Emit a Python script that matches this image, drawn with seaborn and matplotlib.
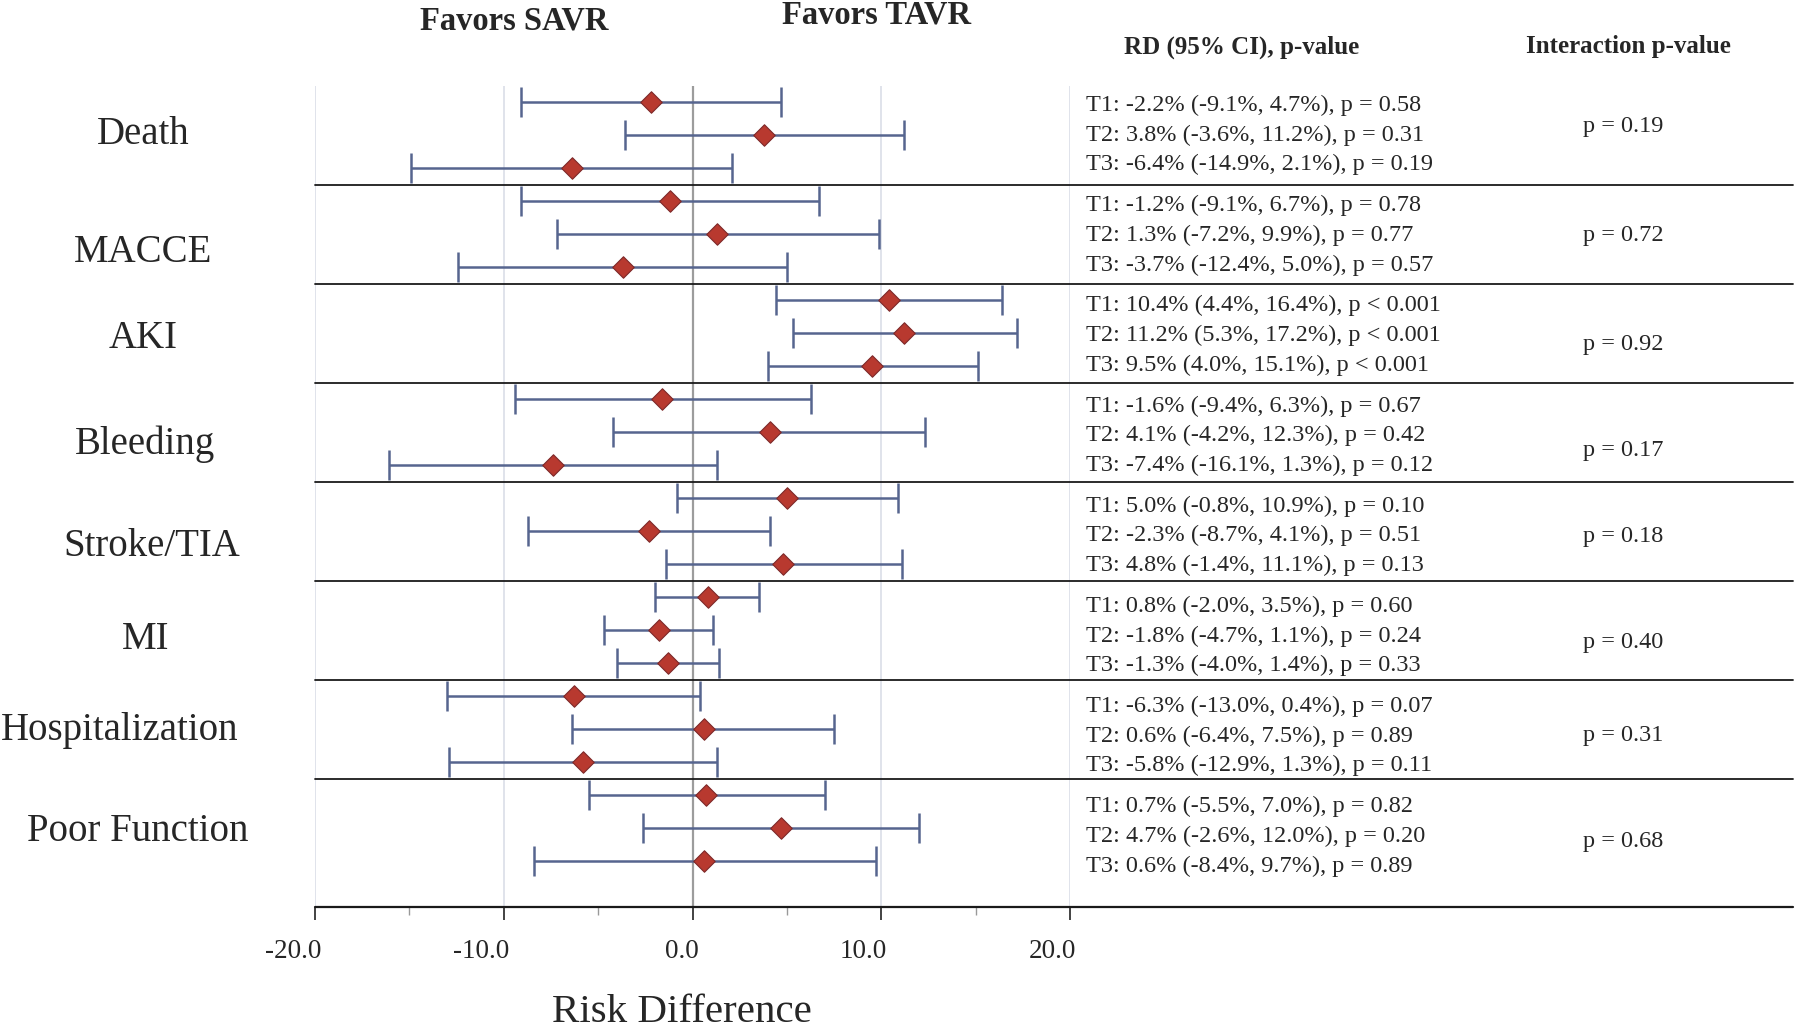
import numpy as np
import pandas as pd
import seaborn as sns
import matplotlib.pyplot as plt
from matplotlib.transforms import ScaledTranslation

# outcomes and terciles
outcomes = ['Death', 'MACCE', 'AKI', 'Bleeding', 'Stroke/TIA', 'MI',
            'Hospitalization', 'Poor Function']
terciles = ['T1', 'T2', 'T3']

# risk difference (%) and 95% CI, per outcome: T1, T2, T3
rd = [[-2.2, 3.8, -6.4], [-1.2, 1.3, -3.7], [10.4, 11.2, 9.5], [-1.6, 4.1, -7.4],
      [5.0, -2.3, 4.8], [0.8, -1.8, -1.3], [-6.3, 0.6, -5.8], [0.7, 4.7, 0.6]]
ci_low = [[-9.1, -3.6, -14.9], [-9.1, -7.2, -12.4], [4.4, 5.3, 4.0], [-9.4, -4.2, -16.1],
          [-0.8, -8.7, -1.4], [-2.0, -4.7, -4.0], [-13.0, -6.4, -12.9], [-5.5, -2.6, -8.4]]
ci_high = [[4.7, 11.2, 2.1], [6.7, 9.9, 5.0], [16.4, 17.2, 15.1], [6.3, 12.3, 1.3],
           [10.9, 4.1, 11.1], [3.5, 1.1, 1.4], [0.4, 7.5, 1.3], [7.0, 12.0, 9.7]]
p_row = [['0.58', '0.31', '0.19'], ['0.78', '0.77', '0.57'], ['<0.001', '<0.001', '<0.001'],
         ['0.67', '0.42', '0.12'], ['0.10', '0.51', '0.13'], ['0.60', '0.24', '0.33'],
         ['0.07', '0.89', '0.11'], ['0.82', '0.20', '0.89']]
p_interaction = ['0.19', '0.72', '0.92', '0.17', '0.18', '0.40', '0.31', '0.68']

xticks = [-20, -10, 0, 10, 20]
xtick_labels = ['-20.0', '-10.0', '0.0', '10.0', '20.0']

# label placement tweaks (layout only)
label_x = [143, 143, 143, 145, 152, 146, 120, 138]      # px centre
label_dy = [-0.03, 0.56, 0.17, 0.37, 0.46, 0.28, 0.03, 0.09]
pint_dy = [-0.27, 0.03, 0.34, 0.57, 0.15, 0.38, 0.2, 0.4]

recs = []
for g, name in enumerate(outcomes):
    for r, t in enumerate(terciles):
        recs.append(dict(outcome=name, tercile=t, rd=rd[g][r], lo=ci_low[g][r],
                         hi=ci_high[g][r], p=p_row[g][r], g=g, r=r, row=3 * g + r))
df = pd.DataFrame(recs)

sns.set_style('white')
plt.rcParams['font.family'] = ['Liberation Serif', 'DejaVu Serif']

fig = plt.figure(figsize=(18, 10.34), dpi=100)
W, H = 1800, 1034
ax = fig.add_axes([315 / W, 1 - 907 / H, (1070 - 315) / W, (907 - 86) / H])
px_per_unit = (1070 - 315) / 40

# vertical reference lines
for x in [-20, -10, 10, 20]:
    ax.axvline(x, color='#dde0e9', lw=1.3, zorder=0)
ax.axvline(0, color='#9c9c9c', lw=1.6, zorder=0)

# confidence intervals
ax.errorbar(df['rd'], df['row'], xerr=[df['rd'] - df['lo'], df['hi'] - df['rd']],
            fmt='none', ecolor='#56658f', elinewidth=1.8, capsize=11, capthick=1.8,
            zorder=2)
sns.scatterplot(data=df, x='rd', y='row', marker='D', s=120, color='#b8392f',
                edgecolor='#7d2a2a', linewidth=0.8, ax=ax, zorder=3, legend=False)

ax.set_xlim(-20, 20)
ax.set_ylim(24.39, -0.49)
ax.set_xlabel('')
ax.set_ylabel('')
ax.set_yticks([])
for s in ['top', 'right', 'left', 'bottom']:
    ax.spines[s].set_visible(False)

ax.set_xticks(xticks)
ax.set_xticklabels(xtick_labels, fontsize=19.5)
ax.set_xticks([-15, -5, 5, 15], minor=True)
ax.tick_params(axis='x', which='major', direction='out', length=9, width=1.2,
               color='#222222', pad=14, bottom=True)
ax.tick_params(axis='x', which='minor', direction='out', length=6, width=1,
               color='#999999', bottom=True)
shift = ScaledTranslation(6 / 100, 0, fig.dpi_scale_trans)
for lab in ax.get_xticklabels():
    lab.set_horizontalalignment('right')
    lab.set_transform(lab.get_transform() + shift)

# separators between outcomes, running across the table
xmax = (1793 - 315) / (1070 - 315)
for g in range(len(outcomes) - 1):
    ax.axhline(3 * g + 2.5, xmin=0, xmax=xmax, color='#1a1a1a', lw=1.3, clip_on=False)
ax.axhline(24.39, xmin=0, xmax=xmax, color='#1a1a1a', lw=1.6, clip_on=False)

# outcome labels on the left
for g, name in enumerate(outcomes):
    ax.text(-20 - (315 - label_x[g]) / px_per_unit, 3 * g + 1 + label_dy[g], name,
            fontsize=28, ha='center', va='center', clip_on=False)

# table text on the right
for _, row in df.iterrows():
    p = row['p']
    ptxt = f'p < {p[1:]}' if p.startswith('<') else f'p = {p}'
    txt = f"{row['tercile']}: {row['rd']:.1f}% ({row['lo']:.1f}%, {row['hi']:.1f}%), {ptxt}"
    y = 3 * row['g'] + 1 + (row['r'] - 1) * 0.9 + 0.035 * row['g']
    ax.text(20.85, y, txt, fontsize=17.5, ha='left', va='center', clip_on=False)

for g, p in enumerate(p_interaction):
    ax.text(49.3, 3 * g + 1 + pint_dy[g], f'p = {p}', fontsize=17.5,
            ha='center', va='center', clip_on=False)

# headers
fig.text(514 / W, 1 - 21 / H, 'Favors SAVR', fontsize=23.5, fontweight='bold',
         ha='center', va='center')
fig.text(876 / W, 1 - 15 / H, 'Favors TAVR', fontsize=23.5, fontweight='bold',
         ha='center', va='center')
fig.text(1242 / W, 1 - 47 / H, 'RD (95% CI), p-value', fontsize=18,
         fontweight='bold', ha='center', va='center')
fig.text(1628 / W, 1 - 47 / H, 'Interaction p-value', fontsize=18,
         fontweight='bold', ha='center', va='center')
fig.text(682 / W, 1 - 1012 / H, 'Risk Difference', fontsize=29.5,
         ha='center', va='center')

fig.savefig('out.png', dpi=100, facecolor='white')
